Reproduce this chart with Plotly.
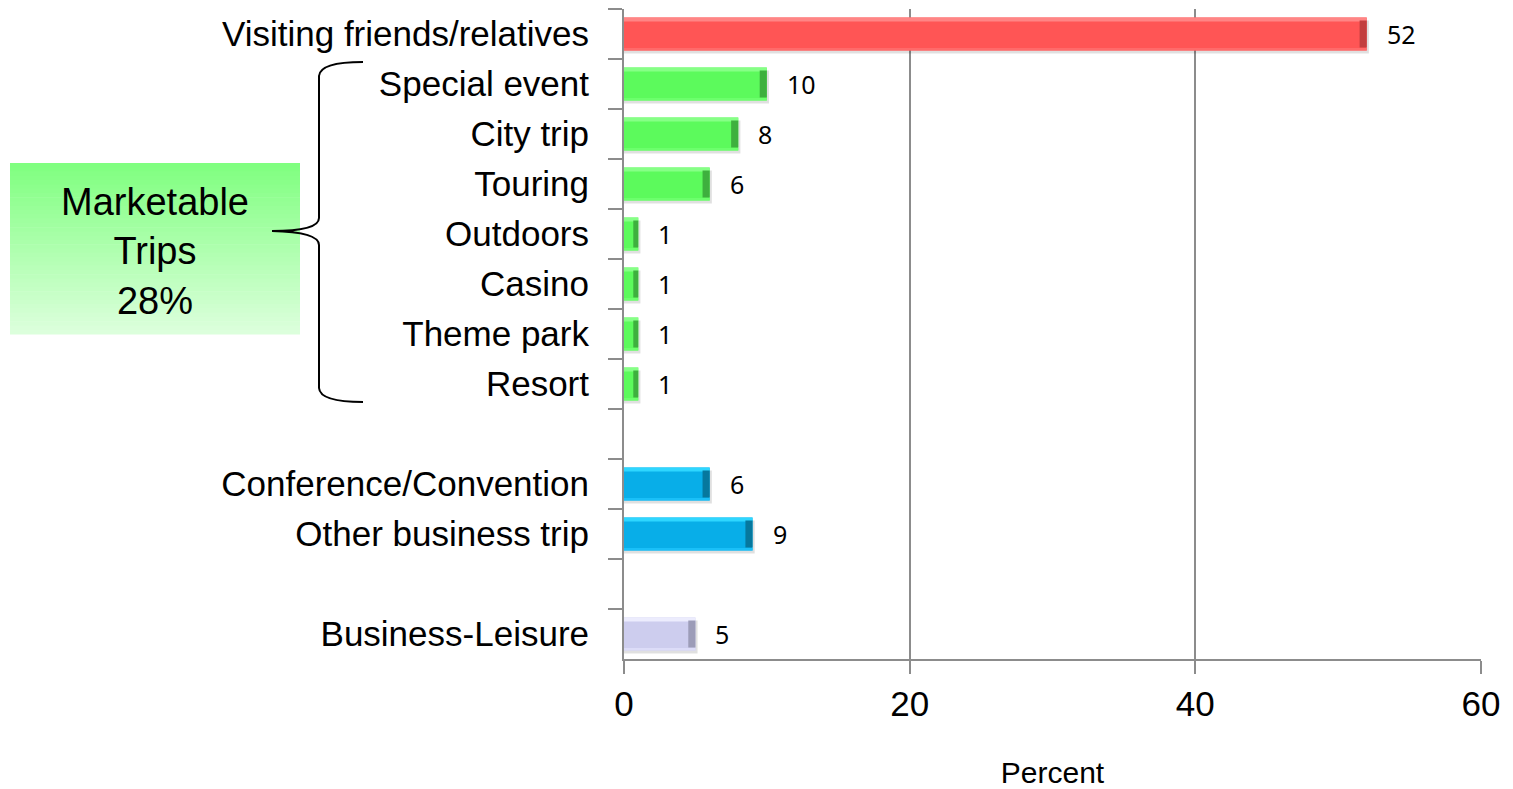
import plotly.graph_objects as go

# Trip purpose shares (percent), top to bottom; blank rows separate the groups
categories = ["Visiting friends/relatives", "Special event", "City trip", "Touring",
              "Outdoors", "Casino", "Theme park", "Resort", " ",
              "Conference/Convention", "Other business trip", "  ", "Business-Leisure"]
values = [52, 10, 8, 6, 1, 1, 1, 1, None, 6, 9, None, 5]
groups = ["vfr", "mkt", "mkt", "mkt", "mkt", "mkt", "mkt", "mkt", None,
          "biz", "biz", None, "bl"]
x_ticks = [0, 20, 40, 60]

# face / top highlight / bottom highlight / right bevel colours per group
palette = {
    "vfr": ("#FF5555", "#FF8585", "#FF6A6A", "#C23F3F"),
    "mkt": ("#5CFA5C", "#86FF86", "#6CFF6C", "#3EB03E"),
    "biz": ("#08AEE8", "#2ED6FF", "#1AC0F8", "#06789E"),
    "bl":  ("#CDCDEE", "#ECECFD", "#DCDCF8", "#9C9CB8"),
}

rows = [(c, v, g) for c, v, g in zip(categories, values, groups) if v is not None]
cats = [r[0] for r in rows]
vals = [r[1] for r in rows]
face = [palette[r[2]][0] for r in rows]
top_hi = [palette[r[2]][1] for r in rows]
bot_hi = [palette[r[2]][2] for r in rows]
bevel = [palette[r[2]][3] for r in rows]
bevel_len = [min(0.5, 0.35 * v) for v in vals]

W, H = 1513, 789
L, R, T, B = 624, 32, 9, 130
HALF = 0.33

fig = go.Figure()

# soft drop shadow
fig.add_trace(go.Bar(y=cats, x=[v + 0.15 for v in vals], orientation="h",
                     offset=-HALF + 0.06, width=2 * HALF,
                     marker=dict(color="rgba(0,0,0,0.12)", line_width=0),
                     hoverinfo="skip", showlegend=False))
# bar face
fig.add_trace(go.Bar(y=cats, x=vals, orientation="h", offset=-HALF, width=2 * HALF,
                     marker=dict(color=face, line_width=0), showlegend=False,
                     hovertemplate="%{y}: %{x}%<extra></extra>"))
# top highlight strip
fig.add_trace(go.Bar(y=cats, x=vals, orientation="h", offset=-HALF, width=0.08,
                     marker=dict(color=top_hi, line_width=0),
                     hoverinfo="skip", showlegend=False))
# bottom highlight strip
fig.add_trace(go.Bar(y=cats, x=vals, orientation="h", offset=HALF - 0.05, width=0.05,
                     marker=dict(color=bot_hi, line_width=0),
                     hoverinfo="skip", showlegend=False))
# darker bevel at the bar end
fig.add_trace(go.Bar(y=cats, x=bevel_len, base=[v - d for v, d in zip(vals, bevel_len)],
                     orientation="h", offset=-HALF + 0.06, width=2 * HALF - 0.12,
                     marker=dict(color=bevel, line_width=0),
                     hoverinfo="skip", showlegend=False))


def px(xp, yp):
    """Convert page pixels to paper coordinates."""
    return (xp - L) / (W - L - R), (H - B - yp) / (H - T - B)


annotations = []
for c, v in zip(cats, vals):
    annotations.append(dict(x=v, y=c, xref="x", yref="y", text=str(v), showarrow=False,
                            xanchor="left", yanchor="middle", xshift=18,
                            font=dict(family="Noto Sans, sans-serif", size=25,
                                      color="#000000")))

# label box with vertical green gradient
shapes = []
n_strips = 40
x0, y0, x1, y1 = 10, 163, 300, 334
c_top, c_bot = (0x80, 0xFF, 0x80), (0xDC, 0xFF, 0xDC)
for i in range(n_strips):
    t = i / (n_strips - 1)
    col = tuple(round(a + (b - a) * t) for a, b in zip(c_top, c_bot))
    ya = y0 + (y1 - y0) * i / n_strips
    yb = y0 + (y1 - y0) * (i + 1) / n_strips + 0.6
    pa, pb = px(x0, ya), px(x1, yb)
    shapes.append(dict(type="rect", xref="paper", yref="paper",
                       x0=pa[0], x1=pb[0], y0=pb[1], y1=pa[1],
                       fillcolor="rgb(%d,%d,%d)" % col, line_width=0, layer="below"))

cx, cy = px(155, 251)
annotations.append(dict(x=cx, y=cy, xref="paper", yref="paper", showarrow=False,
                        text="Marketable<br>Trips<br>28%", align="center",
                        xanchor="center", yanchor="middle",
                        font=dict(family="Liberation Sans, Arial, sans-serif", size=38,
                                  color="#000000")))

# curly brace grouping the marketable trip rows
brace_pts = [("M", [(363, 62)]),
             ("Q", [(320, 62), (319, 76)]),
             ("L", [(319, 218)]),
             ("Q", [(319, 231), (272, 231)]),
             ("Q", [(319, 232), (319, 245)]),
             ("L", [(319, 388)]),
             ("Q", [(320, 402), (363, 402)])]
path = ""
for cmd, pts in brace_pts:
    path += cmd + " " + " ".join("%.5f,%.5f" % px(a, b) for a, b in pts) + " "
shapes.append(dict(type="path", xref="paper", yref="paper", path=path.strip(),
                   line=dict(color="#000000", width=2)))

label_font = "Liberation Sans, Arial, sans-serif"
fig.update_layout(
    width=W, height=H, autosize=False,
    margin=dict(l=L, r=R, t=T, b=B, pad=0),
    paper_bgcolor="white", plot_bgcolor="white",
    barmode="overlay", bargap=0.34,
    showlegend=False,
    annotations=annotations, shapes=shapes,
    xaxis=dict(range=[0, 60], tickvals=x_ticks, ticks="outside", ticklen=13,
               tickwidth=2, tickcolor="#8C8C8C", automargin=False,
               showgrid=True, gridcolor="#8C8C8C", gridwidth=2,
               showline=True, linecolor="#8C8C8C", linewidth=2,
               zeroline=False,
               tickfont=dict(family=label_font, size=35, color="#000000"),
               title=dict(text="Percent", standoff=40,
                          font=dict(family=label_font, size=30, color="#000000"))),
    yaxis=dict(categoryorder="array", categoryarray=categories, autorange="reversed",
               type="category", tickson="boundaries", ticks="outside", ticklen=14,
               tickwidth=2, tickcolor="#8C8C8C", automargin=False,
               showline=True, linecolor="#8C8C8C", linewidth=2,
               showgrid=False, zeroline=False, ticklabelstandoff=26,
               tickfont=dict(family=label_font, size=35, color="#000000")),
)

fig.write_html("out.html")
